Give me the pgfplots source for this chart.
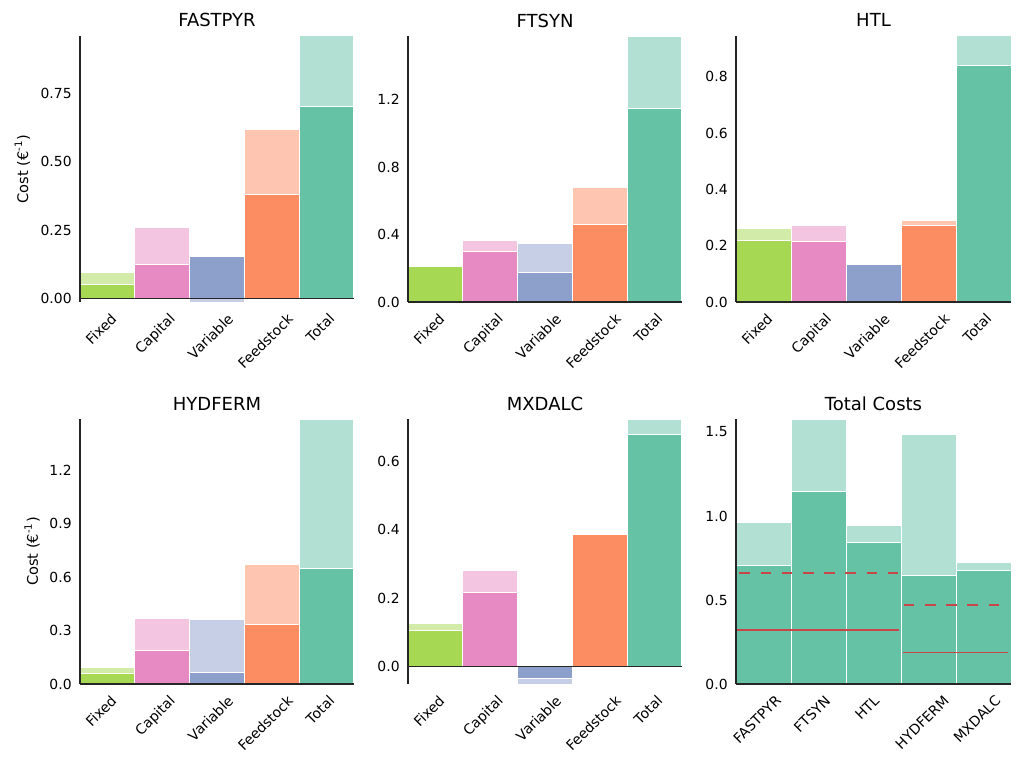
\documentclass[border=0pt]{standalone}
\usepackage{pgfplots}
\pgfplotsset{compat=1.18}
\usepackage{graphicx}
\usepackage{fontspec}
\setmainfont{DejaVu Sans}

\definecolor{cfix}{HTML}{A6D854}
\definecolor{ccap}{HTML}{E78AC3}
\definecolor{cvar}{HTML}{8DA0CB}
\definecolor{cfeed}{HTML}{FC8D62}
\definecolor{ctot}{HTML}{66C2A5}
\definecolor{cred}{HTML}{C8454A}
\definecolor{spine}{HTML}{262626}

% #1 = x position, #2 = light (range) value, #3 = dark (base) value, #4 = colour
\newcommand\catbar[4]{%
  \addplot[ybar, bar width=1, bar shift=0pt, fill=#4!50!white, draw=white, line width=0.5pt] coordinates {(#1,#2)};
  \addplot[ybar, bar width=1, bar shift=0pt, fill=#4, draw=white, line width=0.5pt] coordinates {(#1,#3)};
}
\newcommand\zeroline{\draw[spine, line width=0.6pt] (axis cs:-0.5,0) -- (axis cs:4.5,0);}

\pgfplotsset{
  every axis title/.style={at={(0.5,1)}, anchor=base, inner sep=0pt, yshift=4.5pt, font=\fontsize{9}{11}\selectfont},
  panel/.style={
    scale only axis, width=137pt, height=133pt,
    xmin=-0.5, xmax=4.5, enlargelimits=false,
    axis lines=left, axis line style={-, spine, line width=0.6pt},
    x axis line style={draw=none},
    axis on top,
    major tick length=0pt,
    xtick={0,1,2,3,4},
    yticklabel style={font=\fontsize{6.95}{8}\selectfont, anchor=east, inner sep=0pt, xshift=-4pt},
    xticklabel style={font=\fontsize{7}{8}\selectfont, anchor=north, inner sep=0pt, yshift=-5pt, xshift=-3.25pt},
    ylabel style={font=\fontsize{7.3}{9}\selectfont, inner sep=0pt, anchor=center},
  },
  catlabels/.style={xticklabels={{\rotatebox{45}{Fixed}},{\rotatebox{45}{Capital}},{\rotatebox{45}{Variable}},{\rotatebox{45}{Feedstock}},{\rotatebox{45}{Total}}}},
}

\begin{document}
\begin{tikzpicture}
\useasboundingbox (0,0) rectangle (512pt,383.5pt);

% FASTPYR
\begin{axis}[panel, catlabels, at={(40pt,232.5pt)}, anchor=south west,
  title={FASTPYR}, ymin=-0.014, ymax=0.962,
  ytick={0,0.25,0.5,0.75}, yticklabels={0.00,0.25,0.50,0.75},
  ylabel={Cost (€\textsuperscript{-1})}, ylabel style={at={(axis description cs:-0.21,0.5)}}]
\catbar{0}{0.093}{0.049}{cfix}
\catbar{1}{0.260}{0.123}{ccap}
\catbar{2}{-0.014}{0.153}{cvar}
\catbar{3}{0.620}{0.379}{cfeed}
\catbar{4}{0.962}{0.705}{ctot}
\zeroline
\end{axis}

% FTSYN
\begin{axis}[panel, catlabels, at={(204pt,232.5pt)}, anchor=south west,
  title={FTSYN}, ymin=0, ymax=1.577,
  ytick={0,0.4,0.8,1.2}, yticklabels={0.0,0.4,0.8,1.2}]
\catbar{0}{0.212}{0.212}{cfix}
\catbar{1}{0.366}{0.297}{ccap}
\catbar{2}{0.348}{0.172}{cvar}
\catbar{3}{0.681}{0.457}{cfeed}
\catbar{4}{1.577}{1.148}{ctot}
\zeroline
\end{axis}

% HTL
\begin{axis}[panel, catlabels, at={(368pt,232.5pt)}, anchor=south west, width=137.5pt,
  title={HTL}, ymin=0, ymax=0.945,
  ytick={0,0.2,0.4,0.6,0.8}, yticklabels={0.0,0.2,0.4,0.6,0.8}]
\catbar{0}{0.262}{0.217}{cfix}
\catbar{1}{0.273}{0.216}{ccap}
\catbar{2}{0.134}{0.134}{cvar}
\catbar{3}{0.289}{0.272}{cfeed}
\catbar{4}{0.945}{0.840}{ctot}
\zeroline
\end{axis}

% HYDFERM
\begin{axis}[panel, catlabels, at={(40pt,41.5pt)}, anchor=south west, height=132.5pt,
  title={HYDFERM}, ymin=0, ymax=1.486,
  ytick={0,0.3,0.6,0.9,1.2}, yticklabels={0.0,0.3,0.6,0.9,1.2},
  ylabel={Cost (€\textsuperscript{-1})}, ylabel style={at={(axis description cs:-0.175,0.5)}}]
\catbar{0}{0.091}{0.060}{cfix}
\catbar{1}{0.370}{0.187}{ccap}
\catbar{2}{0.359}{0.063}{cvar}
\catbar{3}{0.669}{0.333}{cfeed}
\catbar{4}{1.486}{0.647}{ctot}
\zeroline
\end{axis}

% MXDALC
\begin{axis}[panel, catlabels, at={(204pt,41.5pt)}, anchor=south west, height=132.5pt,
  title={MXDALC}, ymin=-0.051, ymax=0.723,
  ytick={0,0.2,0.4,0.6}, yticklabels={0.0,0.2,0.4,0.6}]
\catbar{0}{0.127}{0.105}{cfix}
\catbar{1}{0.280}{0.217}{ccap}
\catbar{2}{-0.051}{-0.034}{cvar}
\catbar{3}{0.386}{0.386}{cfeed}
\catbar{4}{0.723}{0.678}{ctot}
\zeroline
\end{axis}

% Total Costs
\begin{axis}[panel, at={(368pt,41.5pt)}, anchor=south west, width=137.5pt, height=132.5pt,
  title={Total Costs}, ymin=0, ymax=1.577,
  ytick={0,0.5,1.0,1.5}, yticklabels={0.0,0.5,1.0,1.5},
  xticklabels={{\rotatebox{45}{FASTPYR}},{\rotatebox{45}{FTSYN}},{\rotatebox{45}{HTL}},{\rotatebox{45}{HYDFERM}},{\rotatebox{45}{MXDALC}}}]
\catbar{0}{0.962}{0.705}{ctot}
\catbar{1}{1.577}{1.148}{ctot}
\catbar{2}{0.946}{0.840}{ctot}
\catbar{3}{1.486}{0.647}{ctot}
\catbar{4}{0.724}{0.676}{ctot}
\addplot[cred, line width=0.75pt] coordinates {(-0.5,0.320) (2.46,0.320)};
\addplot[cred, line width=0.75pt, dash pattern=on 5.3pt off 5.3pt] coordinates {(-0.44,0.662) (2.46,0.662)};
\addplot[cred, line width=0.75pt] coordinates {(2.54,0.188) (4.45,0.188)};
\addplot[cred, line width=0.75pt, dash pattern=on 5.3pt off 5.3pt] coordinates {(2.55,0.470) (4.36,0.470)};
\zeroline
\end{axis}
\end{tikzpicture}
\end{document}
